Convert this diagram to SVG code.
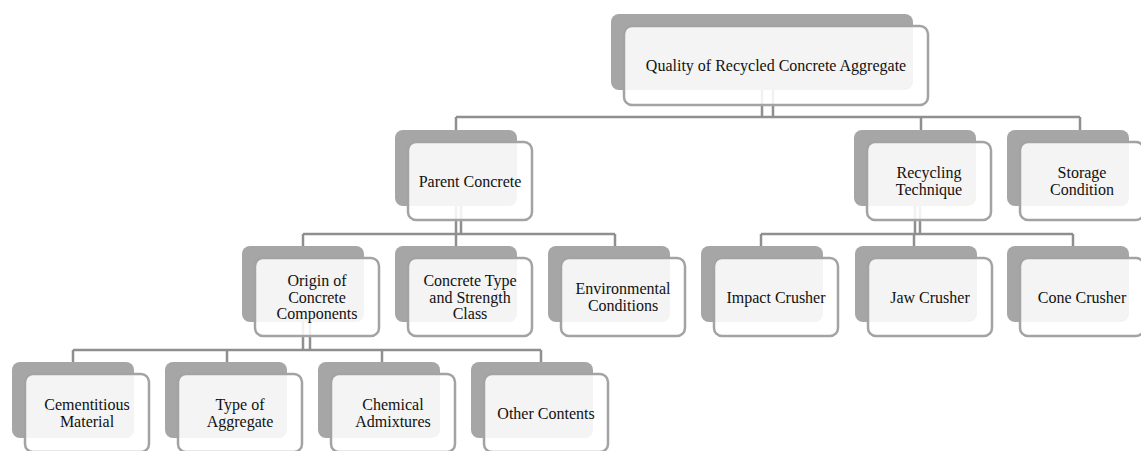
<svg xmlns="http://www.w3.org/2000/svg" width="1141" height="451" viewBox="0 0 1141 451">
<style>
.bk{fill:#a6a6a6;}
.fr{fill:#ffffff;fill-opacity:0.88;stroke:#a3a3a3;stroke-width:2.5;}
.ln{fill:none;stroke:#8f8f8f;stroke-width:2.5;}
.tx{font-family:"Liberation Serif","Times New Roman",serif;font-size:16px;fill:#111;text-anchor:middle;}
</style>
<rect width="1141" height="451" fill="#ffffff"/>
<g id="connectors">
<path class="ln" d="M762 90V117M773 90V117M456 117H1080M456 117V130M921 117V130M1080 117V130"/>
<path class="ln" d="M456 206V234M461 206V234M303 234H615M303 234V246M456 234V246M615 234V246"/>
<path class="ln" d="M915 206V234M920 206V234M761 234H1073M761 234V246M914 234V246M1073 234V246"/>
<path class="ln" d="M303 322V350M310 322V350M73 350H541M73 350V362M227 350V362M382 350V362M541 350V362"/>
</g>
<g id="node-root">
<rect class="bk" x="611" y="14" width="302" height="76" rx="8"/>
<rect class="fr" x="624" y="26" width="304" height="79" rx="8"/>
<text class="tx" x="776" y="71">Quality of Recycled Concrete Aggregate</text>
</g>
<g id="node-parent">
<rect class="bk" x="395" y="130" width="122" height="76" rx="8"/>
<rect class="fr" x="408" y="142" width="124" height="78" rx="8"/>
<text class="tx" x="470" y="186.5">Parent Concrete</text>
</g>
<g id="node-recycling">
<rect class="bk" x="854" y="130" width="122" height="76" rx="8"/>
<rect class="fr" x="867" y="142" width="124" height="78" rx="8"/>
<text class="tx" x="929" y="178.25">Recycling</text>
<text class="tx" x="929" y="194.75">Technique</text>
</g>
<g id="node-storage">
<rect class="bk" x="1007" y="130" width="122" height="76" rx="8"/>
<rect class="fr" x="1020" y="142" width="124" height="78" rx="8"/>
<text class="tx" x="1082" y="178.25">Storage</text>
<text class="tx" x="1082" y="194.75">Condition</text>
</g>
<g id="node-origin">
<rect class="bk" x="242" y="246" width="122" height="76" rx="8"/>
<rect class="fr" x="255" y="258" width="124" height="78" rx="8"/>
<text class="tx" x="317" y="286">Origin of</text>
<text class="tx" x="317" y="302.5">Concrete</text>
<text class="tx" x="317" y="319">Components</text>
</g>
<g id="node-type">
<rect class="bk" x="395" y="246" width="122" height="76" rx="8"/>
<rect class="fr" x="408" y="258" width="124" height="78" rx="8"/>
<text class="tx" x="470" y="286">Concrete Type</text>
<text class="tx" x="470" y="302.5">and Strength</text>
<text class="tx" x="470" y="319">Class</text>
</g>
<g id="node-env">
<rect class="bk" x="548" y="246" width="122" height="76" rx="8"/>
<rect class="fr" x="561" y="258" width="124" height="78" rx="8"/>
<text class="tx" x="623" y="294.25">Environmental</text>
<text class="tx" x="623" y="310.75">Conditions</text>
</g>
<g id="node-impact">
<rect class="bk" x="701" y="246" width="122" height="76" rx="8"/>
<rect class="fr" x="714" y="258" width="124" height="78" rx="8"/>
<text class="tx" x="776" y="302.5">Impact Crusher</text>
</g>
<g id="node-jaw">
<rect class="bk" x="855" y="246" width="122" height="76" rx="8"/>
<rect class="fr" x="868" y="258" width="124" height="78" rx="8"/>
<text class="tx" x="930" y="302.5">Jaw Crusher</text>
</g>
<g id="node-cone">
<rect class="bk" x="1007" y="246" width="122" height="76" rx="8"/>
<rect class="fr" x="1020" y="258" width="124" height="78" rx="8"/>
<text class="tx" x="1082" y="302.5">Cone Crusher</text>
</g>
<g id="node-cementitious">
<rect class="bk" x="12" y="362" width="122" height="76" rx="8"/>
<rect class="fr" x="25" y="374" width="124" height="78" rx="8"/>
<text class="tx" x="87" y="410.25">Cementitious</text>
<text class="tx" x="87" y="426.75">Material</text>
</g>
<g id="node-aggregate">
<rect class="bk" x="165" y="362" width="122" height="76" rx="8"/>
<rect class="fr" x="178" y="374" width="124" height="78" rx="8"/>
<text class="tx" x="240" y="410.25">Type of</text>
<text class="tx" x="240" y="426.75">Aggregate</text>
</g>
<g id="node-chemical">
<rect class="bk" x="318" y="362" width="122" height="76" rx="8"/>
<rect class="fr" x="331" y="374" width="124" height="78" rx="8"/>
<text class="tx" x="393" y="410.25">Chemical</text>
<text class="tx" x="393" y="426.75">Admixtures</text>
</g>
<g id="node-other">
<rect class="bk" x="471" y="362" width="122" height="76" rx="8"/>
<rect class="fr" x="484" y="374" width="124" height="78" rx="8"/>
<text class="tx" x="546" y="418.5">Other Contents</text>
</g>
</svg>
